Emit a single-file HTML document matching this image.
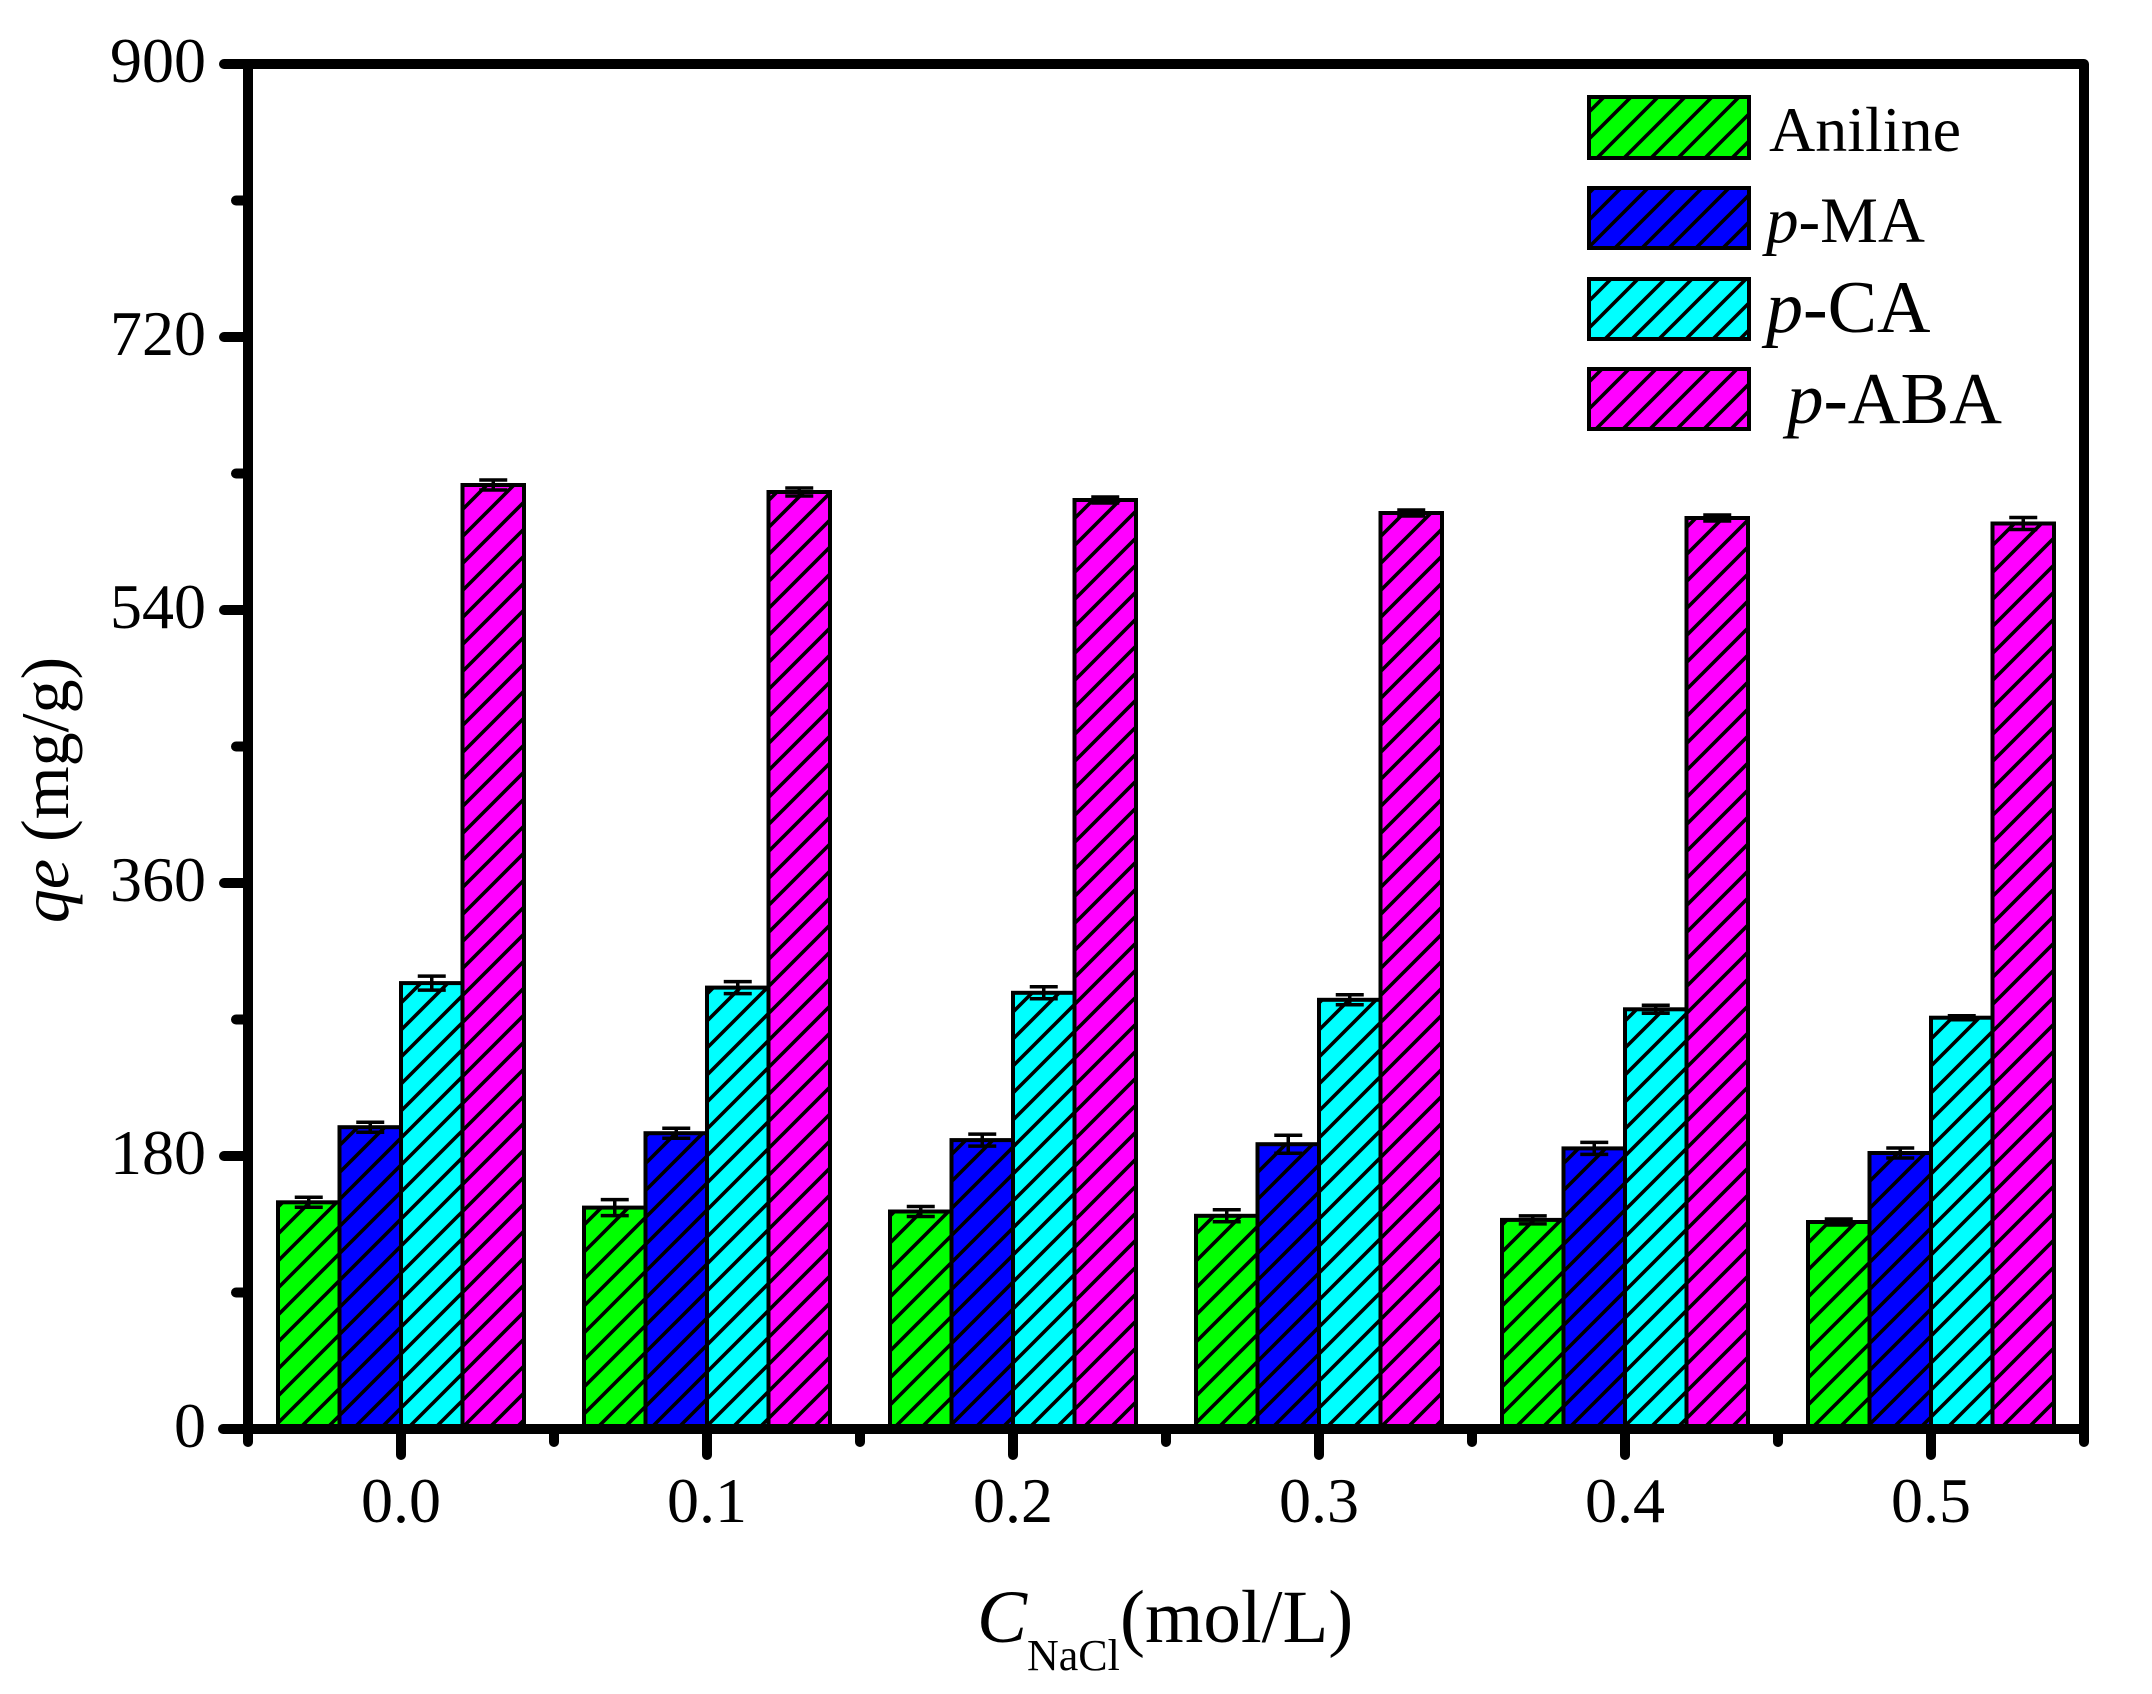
<!DOCTYPE html>
<html>
<head>
<meta charset="utf-8">
<style>
  html, body { margin: 0; padding: 0; background: #fff; }
  svg { display: block; }
  text { font-family: "Liberation Serif", "Times New Roman", serif; fill: #000; }
</style>
</head>
<body>
<svg width="2152" height="1694" viewBox="0 0 2152 1694" xmlns="http://www.w3.org/2000/svg">
  <defs>
    <pattern id="h" patternUnits="userSpaceOnUse" width="27" height="27">
      <path d="M-3,30 L30,-3 M-6,6 L6,-6 M21,33 L33,21" stroke="#000" stroke-width="3.6" fill="none"/>
    </pattern>
  </defs>
  <rect width="2152" height="1694" fill="#fff"/>

  <!-- Bars: fills -->
  <g stroke="none">
    <rect x="278" y="1202.3" width="61.5" height="226.7" fill="#00ff00"/>
    <rect x="339.5" y="1127.2" width="61.5" height="301.8" fill="#0000ff"/>
    <rect x="401" y="983.1" width="61.5" height="445.9" fill="#00ffff"/>
    <rect x="462.5" y="485.0" width="61.5" height="944.0" fill="#ff00ff"/>

    <rect x="584" y="1207.6" width="61.5" height="221.4" fill="#00ff00"/>
    <rect x="645.5" y="1133.2" width="61.5" height="295.8" fill="#0000ff"/>
    <rect x="707" y="987.6" width="61.5" height="441.4" fill="#00ffff"/>
    <rect x="768.5" y="492" width="61.5" height="937" fill="#ff00ff"/>

    <rect x="890" y="1211.5" width="61.5" height="217.5" fill="#00ff00"/>
    <rect x="951.5" y="1140.1" width="61.5" height="288.9" fill="#0000ff"/>
    <rect x="1013" y="992.8" width="61.5" height="436.2" fill="#00ffff"/>
    <rect x="1074.5" y="500" width="61.5" height="929" fill="#ff00ff"/>

    <rect x="1196" y="1215.8" width="61.5" height="213.2" fill="#00ff00"/>
    <rect x="1257.5" y="1144.2" width="61.5" height="284.8" fill="#0000ff"/>
    <rect x="1319" y="999.8" width="61.5" height="429.2" fill="#00ffff"/>
    <rect x="1380.5" y="513" width="61.5" height="916" fill="#ff00ff"/>

    <rect x="1502" y="1219.9" width="61.5" height="209.1" fill="#00ff00"/>
    <rect x="1563.5" y="1148.4" width="61.5" height="280.6" fill="#0000ff"/>
    <rect x="1625" y="1009.3" width="61.5" height="419.7" fill="#00ffff"/>
    <rect x="1686.5" y="518" width="61.5" height="911" fill="#ff00ff"/>

    <rect x="1808" y="1222.0" width="61.5" height="207.0" fill="#00ff00"/>
    <rect x="1869.5" y="1153.0" width="61.5" height="276.0" fill="#0000ff"/>
    <rect x="1931" y="1017.7" width="61.5" height="411.3" fill="#00ffff"/>
    <rect x="1992.5" y="523.5" width="61.5" height="905.5" fill="#ff00ff"/>
  </g>

  <!-- Bars: hatch + outline -->
  <g fill="url(#h)" stroke="#000" stroke-width="4">
    <rect x="278" y="1202.3" width="61.5" height="226.7"/>
    <rect x="339.5" y="1127.2" width="61.5" height="301.8"/>
    <rect x="401" y="983.1" width="61.5" height="445.9"/>
    <rect x="462.5" y="485.0" width="61.5" height="944.0"/>

    <rect x="584" y="1207.6" width="61.5" height="221.4"/>
    <rect x="645.5" y="1133.2" width="61.5" height="295.8"/>
    <rect x="707" y="987.6" width="61.5" height="441.4"/>
    <rect x="768.5" y="492" width="61.5" height="937"/>

    <rect x="890" y="1211.5" width="61.5" height="217.5"/>
    <rect x="951.5" y="1140.1" width="61.5" height="288.9"/>
    <rect x="1013" y="992.8" width="61.5" height="436.2"/>
    <rect x="1074.5" y="500" width="61.5" height="929"/>

    <rect x="1196" y="1215.8" width="61.5" height="213.2"/>
    <rect x="1257.5" y="1144.2" width="61.5" height="284.8"/>
    <rect x="1319" y="999.8" width="61.5" height="429.2"/>
    <rect x="1380.5" y="513" width="61.5" height="916"/>

    <rect x="1502" y="1219.9" width="61.5" height="209.1"/>
    <rect x="1563.5" y="1148.4" width="61.5" height="280.6"/>
    <rect x="1625" y="1009.3" width="61.5" height="419.7"/>
    <rect x="1686.5" y="518" width="61.5" height="911"/>

    <rect x="1808" y="1222.0" width="61.5" height="207.0"/>
    <rect x="1869.5" y="1153.0" width="61.5" height="276.0"/>
    <rect x="1931" y="1017.7" width="61.5" height="411.3"/>
    <rect x="1992.5" y="523.5" width="61.5" height="905.5"/>
  </g>

  <!-- Error bars -->
  <g stroke="#000" stroke-width="3.5" fill="none">
    <path d="M308.75,1197.3 V1207.3 M294.75,1197.3 H322.75 M294.75,1207.3 H322.75"/>
    <path d="M370.25,1122.2 V1132.2 M356.25,1122.2 H384.25 M356.25,1132.2 H384.25"/>
    <path d="M431.75,976.1 V990.1 M417.75,976.1 H445.75 M417.75,990.1 H445.75"/>
    <path d="M493.25,480.0 V490.0 M479.25,480.0 H507.25 M479.25,490.0 H507.25"/>

    <path d="M614.75,1199.6 V1215.6 M600.75,1199.6 H628.75 M600.75,1215.6 H628.75"/>
    <path d="M676.25,1128.2 V1138.2 M662.25,1128.2 H690.25 M662.25,1138.2 H690.25"/>
    <path d="M737.75,981.6 V993.6 M723.75,981.6 H751.75 M723.75,993.6 H751.75"/>
    <path d="M799.25,488 V496 M785.25,488 H813.25 M785.25,496 H813.25"/>

    <path d="M920.75,1206.5 V1216.5 M906.75,1206.5 H934.75 M906.75,1216.5 H934.75"/>
    <path d="M982.25,1134.1 V1146.1 M968.25,1134.1 H996.25 M968.25,1146.1 H996.25"/>
    <path d="M1043.75,986.8 V998.8 M1029.75,986.8 H1057.75 M1029.75,998.8 H1057.75"/>
    <path d="M1105.25,497 V503 M1091.25,497 H1119.25 M1091.25,503 H1119.25"/>

    <path d="M1226.75,1209.8 V1221.8 M1212.75,1209.8 H1240.75 M1212.75,1221.8 H1240.75"/>
    <path d="M1288.25,1135.2 V1153.2 M1274.25,1135.2 H1302.25 M1274.25,1153.2 H1302.25"/>
    <path d="M1349.75,994.8 V1004.8 M1335.75,994.8 H1363.75 M1335.75,1004.8 H1363.75"/>
    <path d="M1411.25,510 V516 M1397.25,510 H1425.25 M1397.25,516 H1425.25"/>

    <path d="M1532.75,1215.9 V1223.9 M1518.75,1215.9 H1546.75 M1518.75,1223.9 H1546.75"/>
    <path d="M1594.25,1142.4 V1154.4 M1580.25,1142.4 H1608.25 M1580.25,1154.4 H1608.25"/>
    <path d="M1655.75,1005.3 V1013.3 M1641.75,1005.3 H1669.75 M1641.75,1013.3 H1669.75"/>
    <path d="M1717.25,515 V521 M1703.25,515 H1731.25 M1703.25,521 H1731.25"/>

    <path d="M1838.75,1219.0 V1225.0 M1824.75,1219.0 H1852.75 M1824.75,1225.0 H1852.75"/>
    <path d="M1900.25,1148.0 V1158.0 M1886.25,1148.0 H1914.25 M1886.25,1158.0 H1914.25"/>
    <path d="M1961.75,1015.7 V1019.7 M1947.75,1015.7 H1975.75 M1947.75,1019.7 H1975.75"/>
    <path d="M2023.25,517.5 V529.5 M2009.25,517.5 H2037.25 M2009.25,529.5 H2037.25"/>
  </g>

  <!-- Axes -->
  <g stroke="#000" stroke-width="10" fill="none" stroke-linecap="round" stroke-linejoin="round">
    <path d="M224,64 H2084 V1429"/>
    <path d="M248,64 V1442"/>
    <path d="M223,1429 H2084 V1442"/>
    <path d="M224,337 H248 M224,610 H248 M224,883 H248 M224,1156 H248"/>
    <path d="M236,200.5 H248 M236,473.5 H248 M236,746.5 H248 M236,1019.5 H248 M236,1292.5 H248"/>
    <path d="M401,1429 V1455 M707,1429 V1455 M1013,1429 V1455 M1319,1429 V1455 M1625,1429 V1455 M1931,1429 V1455"/>
    <path d="M554,1429 V1442 M860,1429 V1442 M1166,1429 V1442 M1472,1429 V1442 M1778,1429 V1442"/>
  </g>

  <!-- Y tick labels -->
  <g font-size="64" text-anchor="end">
    <text x="206" y="82">900</text>
    <text x="206" y="355">720</text>
    <text x="206" y="628">540</text>
    <text x="206" y="901">360</text>
    <text x="206" y="1174">180</text>
    <text x="206" y="1447">0</text>
  </g>

  <!-- X tick labels -->
  <g font-size="64" text-anchor="middle">
    <text x="401" y="1522">0.0</text>
    <text x="707" y="1522">0.1</text>
    <text x="1013" y="1522">0.2</text>
    <text x="1319" y="1522">0.3</text>
    <text x="1625" y="1522">0.4</text>
    <text x="1931" y="1522">0.5</text>
  </g>

  <!-- Y axis title -->
  <text transform="translate(68,790) rotate(-90)" text-anchor="middle" font-size="68"><tspan font-style="italic">qe</tspan> (mg/g)</text>

  <!-- X axis title -->
  <text x="977" y="1642" font-size="75" font-style="italic">C</text>
  <text x="1027" y="1670" font-size="44">NaCl</text>
  <text x="1120" y="1642" font-size="75">(mol/L)</text>

  <!-- Legend -->
  <g stroke="#000" stroke-width="4">
    <rect x="1589" y="97" width="160" height="61" fill="#00ff00"/>
    <rect x="1589" y="97" width="160" height="61" fill="url(#h)"/>
    <rect x="1589" y="188" width="160" height="60" fill="#0000ff"/>
    <rect x="1589" y="188" width="160" height="60" fill="url(#h)"/>
    <rect x="1589" y="279" width="160" height="60" fill="#00ffff"/>
    <rect x="1589" y="279" width="160" height="60" fill="url(#h)"/>
    <rect x="1589" y="369" width="160" height="60" fill="#ff00ff"/>
    <rect x="1589" y="369" width="160" height="60" fill="url(#h)"/>
  </g>
  <text x="1769" y="151" font-size="64">Aniline</text>
  <text x="1766" y="242" font-size="65"><tspan font-style="italic">p</tspan>-MA</text>
  <text x="1766" y="332" font-size="74"><tspan font-style="italic">p</tspan>-CA</text>
  <text x="1787" y="423" font-size="73"><tspan font-style="italic">p</tspan>-ABA</text>
</svg>
</body>
</html>
